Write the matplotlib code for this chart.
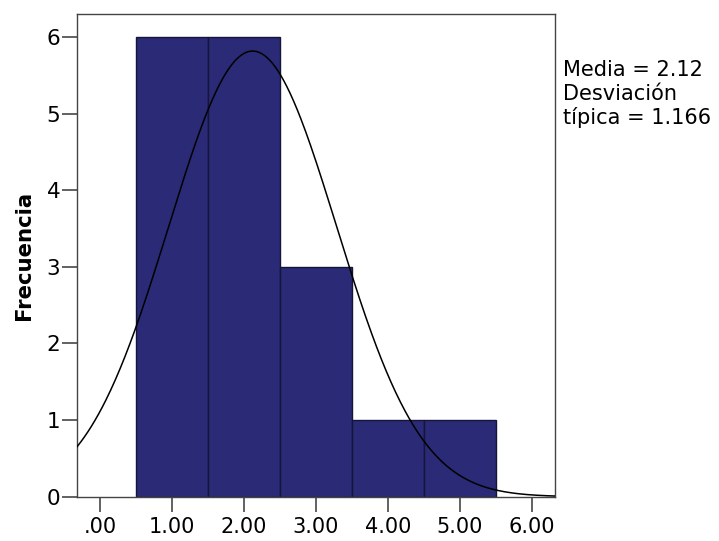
import numpy as np
import matplotlib.pyplot as plt

plt.rcParams["font.family"] = ["DejaVu Sans"]

# Histogram bins (centres) and counts
bin_centres = [1.0, 2.0, 3.0, 4.0, 5.0]
counts = [6, 6, 3, 1, 1]
bin_width = 1.0

media = 2.12
desviacion = 1.166

x_ticks = [0, 1, 2, 3, 4, 5, 6]
x_tick_labels = [".00", "1.00", "2.00", "3.00", "4.00", "5.00", "6.00"]
y_ticks = [0, 1, 2, 3, 4, 5, 6]

fig = plt.figure(figsize=(7.19, 5.41), dpi=100)
ax = fig.add_axes([0.1071, 0.0819, 0.6648, 0.8922])

ax.bar(bin_centres, counts, width=bin_width, color="#2a2a76",
       edgecolor="#15153a", linewidth=1.0, zorder=2)

# Normal curve scaled to the total count
xmin, xmax = -0.32, 6.32
n = sum(counts)
xs = np.linspace(xmin, xmax, 400)
ys = n * bin_width / (desviacion * np.sqrt(2 * np.pi)) * np.exp(-0.5 * ((xs - media) / desviacion) ** 2)
ax.plot(xs, ys, color="black", linewidth=1.1, zorder=3)

ax.set_xlim(xmin, xmax)
ax.set_ylim(0, 6.3)
ax.set_xticks(x_ticks)
ax.set_xticklabels(x_tick_labels)
ax.set_yticks(y_ticks)
ax.tick_params(axis="x", length=11, width=1.3, color="#555555", labelsize=15, pad=3.5)
ax.tick_params(axis="y", length=11, width=1.3, color="#555555", labelsize=15.5, pad=1)
for spine in ax.spines.values():
    spine.set_color("#444444")
    spine.set_linewidth(1.0)

ax.set_ylabel("Frecuencia", fontsize=15.3, fontweight="bold", labelpad=9)

fig.text(0.783, 0.826, "Media = 2.12\nDesviación\ntípica = 1.166", fontsize=15,
         ha="left", va="center", linespacing=1.2)

fig.savefig("out.png", dpi=100)
